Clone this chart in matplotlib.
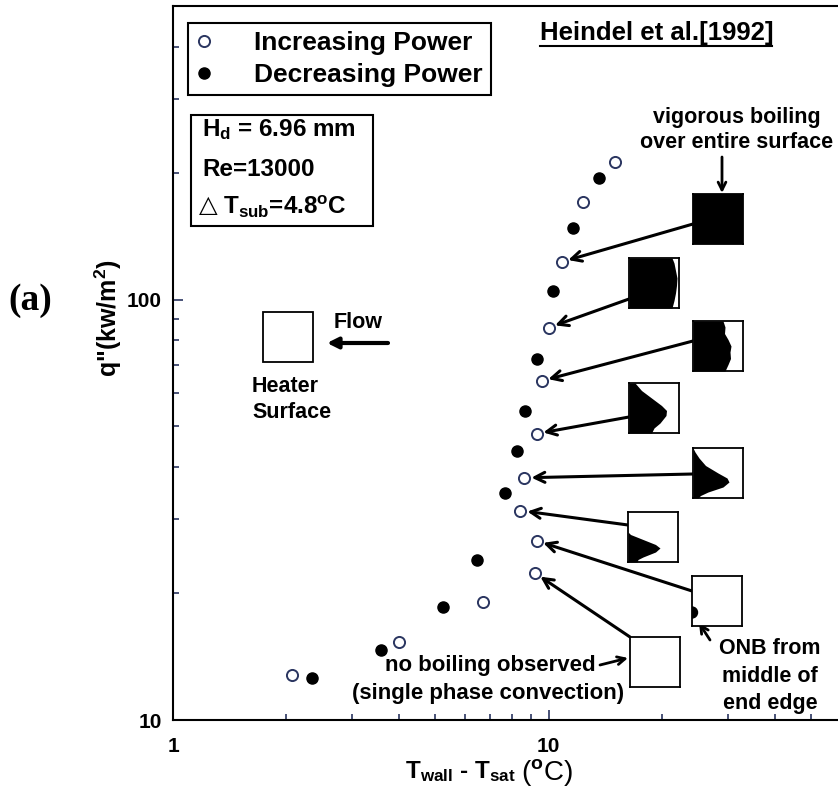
import matplotlib.pyplot as plt
import matplotlib.ticker as mticker
from matplotlib.patches import Rectangle, Wedge
from matplotlib.lines import Line2D

plt.rcParams['font.family'] = ['Liberation Sans', 'DejaVu Sans']
plt.rcParams['font.weight'] = 'bold'
plt.rcParams['mathtext.fontset'] = 'custom'
plt.rcParams['mathtext.rm'] = 'Liberation Sans'
plt.rcParams['mathtext.bf'] = 'Liberation Sans:bold'
plt.rcParams['mathtext.it'] = 'Liberation Sans:italic'

W, H = 838, 791

# wall superheat (C) and heat flux (kW/m2)
dt_inc = [2.08, 4.01, 6.71, 9.18, 9.29, 8.42, 8.63, 9.29, 9.58, 10.0, 10.83, 12.32, 15.0]
q_inc = [12.8, 15.3, 19.1, 22.4, 26.7, 31.5, 37.7, 48.0, 64.1, 85.8, 123, 171, 213]
dt_dec = [2.35, 3.59, 5.22, 6.43, 7.68, 8.22, 8.68, 9.29, 10.25, 11.59, 13.59]
q_dec = [12.6, 14.7, 18.6, 24.0, 34.7, 43.7, 54.4, 72.4, 105, 148, 195]

navy = '#2a3560'


def fp(px, py):
    # pixel position (from top-left) -> figure fraction
    return px / W, 1 - py / H


fig = plt.figure(figsize=(W / 100, H / 100), dpi=100)
ax = fig.add_axes([173 / W, (H - 720) / H, (W - 173) / W, 714 / H])

ax.plot(dt_inc, q_inc, 'o', ls='none', ms=8, mfc='white', mec=navy, mew=1.4,
        label='Increasing Power', zorder=3)
ax.plot(dt_dec, q_dec, 'o', ls='none', ms=8, color='black',
        label='Decreasing Power', zorder=3)

ax.set_xscale('log')
ax.set_yscale('log')
ax.set_xlim(1, 59)
ax.set_ylim(10, 500)

fmt = mticker.FuncFormatter(lambda v, _: f'{v:g}')
ax.xaxis.set_major_formatter(fmt)
ax.yaxis.set_major_formatter(fmt)
ax.xaxis.set_minor_formatter(mticker.NullFormatter())
ax.yaxis.set_minor_formatter(mticker.NullFormatter())
ax.tick_params(which='both', direction='in', color=navy, width=1.2,
               labelsize=15, top=False, right=False)
ax.tick_params(which='major', length=7)
ax.tick_params(which='minor', length=4)
ax.tick_params(axis='x', pad=12)
ax.tick_params(axis='y', pad=8)
for s in ['left', 'bottom', 'top']:
    ax.spines[s].set_linewidth(1.5)
ax.spines['right'].set_visible(False)

leg = ax.legend(loc='upper left', bbox_to_anchor=fp(188, 23),
                bbox_transform=fig.transFigure, borderaxespad=0, fancybox=False,
                edgecolor='black', framealpha=1, numpoints=1,
                prop={'weight': 'bold', 'size': 19}, handlelength=0.6,
                handletextpad=1.6, labelspacing=0.32, borderpad=0.3)
leg.get_frame().set_linewidth(1.5)

# axis titles
fig.text(*fp(108, 318), 'q"(kw/m$^\\mathbf{2}$)', rotation=90, ha='center',
         va='center', fontsize=18)
fig.text(*fp(516, 772), r'T$_{\mathbf{wall}}$ - T$_{\mathbf{sat}}$', ha='right',
         va='center', fontsize=17.5)
fig.text(*fp(521, 772), '($^{\\mathrm{o}}$C)', ha='left', va='center',
         fontsize=20, fontweight='normal')
fig.text(*fp(30, 300), '(a)', family='Liberation Serif', fontsize=27,
         ha='center', va='center')

# source tag, underlined
fig.text(*fp(540, 33), 'Heindel et al.[1992]', fontsize=18.5, ha='left', va='center')
fig.add_artist(Line2D([540 / W, 772 / W], [1 - 46 / H, 1 - 46 / H], color='black', lw=1.5))

# test conditions box
fig.add_artist(Rectangle(fp(191, 226), 182 / W, 111 / H, fill=False,
                         lw=1.5, ec='black', transform=fig.transFigure))
fig.text(*fp(202, 130), r'$\mathbf{H_d}$ = 6.96 mm', fontsize=17.5, va='center')
fig.text(*fp(202, 170), 'Re=13000', fontsize=17.5, va='center')
fig.text(*fp(199, 205), '\u25b3', family='DejaVu Sans', fontsize=17.5,
         fontweight='normal', va='center')
fig.text(*fp(223, 207), r'T$_{\mathbf{sub}}$=4.8$^{\mathbf{o}}$C', fontsize=17.5, va='center')

# heater sketch with flow direction
fig.add_artist(Rectangle(fp(263, 362), 50 / W, 50 / H, fill=False, lw=1.3,
                         ec='black', transform=fig.transFigure))
fig.text(*fp(358, 323), 'Flow', fontsize=15.5, ha='center', va='center')
ax.annotate('', xy=fp(327, 343), xycoords='figure fraction', xytext=fp(388, 343),
            textcoords='figure fraction',
            arrowprops=dict(arrowstyle='-|>', lw=3, color='black', mutation_scale=16,
                            shrinkA=0, shrinkB=0))
fig.text(*fp(252, 387), 'Heater', fontsize=15.5, va='center')
fig.text(*fp(252, 413), 'Surface', fontsize=15.5, va='center')

# surface snapshots: black = boiling region, edge profile from the left side
snapshots = [
    # (left, top, point index, arrow start, (ys, xs))
    (693, 194, 10, (693, 224), ([0, 1], [1, 1])),
    (629, 258, 9, (629, 299), ([0, 0.1, 0.25, 0.4, 0.55, 0.7, 0.85, 1],
                               [0.86, 0.9, 0.93, 0.96, 0.95, 0.93, 0.9, 0.86])),
    (693, 321, 8, (693, 341), ([0, 0.12, 0.25, 0.37, 0.5, 0.62, 0.75, 0.87, 1],
                               [0.6, 0.64, 0.63, 0.7, 0.76, 0.74, 0.75, 0.7, 0.64])),
    (629, 383, 7, (629, 417), ([0, 0.15, 0.3, 0.45, 0.55, 0.65, 0.8, 0.9, 1],
                               [0.12, 0.25, 0.45, 0.65, 0.75, 0.74, 0.62, 0.5, 0.45])),
    (693, 448, 6, (693, 474), ([0, 0.08, 0.2, 0.35, 0.5, 0.6, 0.68, 0.78, 0.88, 0.95, 1],
                               [0, 0.04, 0.12, 0.25, 0.5, 0.68, 0.72, 0.6, 0.3, 0.15, 0.1])),
    (628, 512, 5, (628, 525), ([0, 0.4, 0.45, 0.55, 0.65, 0.72, 0.8, 0.9, 0.95, 1],
                               [0, 0, 0.05, 0.3, 0.55, 0.64, 0.55, 0.3, 0.2, 0.18])),
    (692, 576, 4, (692, 591), None),
    (630, 637, 3, (630, 637), ([0, 1], [0, 0])),
]
size = 50
for left, top, idx, start, prof in snapshots:
    sub = fig.add_axes([left / W, 1 - (top + size) / H, size / W, size / H])
    sub.set_xlim(0, 1)
    sub.set_ylim(1, 0)
    sub.set_xticks([])
    sub.set_yticks([])
    for s in sub.spines.values():
        s.set_linewidth(1.3)
    if prof is None:
        sub.add_patch(Wedge((0, 0.73), 0.11, -90, 90, color='black'))
    else:
        ys, xs = prof
        sub.fill_betweenx(ys, 0, xs, color='black', lw=0)
    ax.annotate('', xy=(dt_inc[idx], q_inc[idx]), xycoords='data',
                xytext=fp(*start), textcoords='figure fraction',
                arrowprops=dict(arrowstyle='->', lw=2.2, color='black',
                                mutation_scale=18, shrinkA=0, shrinkB=5))

fig.text(*fp(737, 118), 'vigorous boiling', fontsize=15.5, ha='center', va='center')
fig.text(*fp(737, 143), 'over entire surface', fontsize=15.5, ha='center', va='center')
ax.annotate('', xy=fp(722, 193), xycoords='figure fraction', xytext=fp(722, 157),
            textcoords='figure fraction',
            arrowprops=dict(arrowstyle='->', lw=2, color='black', mutation_scale=14,
                            shrinkA=0, shrinkB=0))

for txt, y in [('ONB from', 649), ('middle of', 677), ('end edge', 703)]:
    fig.text(*fp(770, y), txt, fontsize=15.5, ha='center', va='center')
ax.annotate('', xy=fp(699, 623), xycoords='figure fraction', xytext=fp(710, 640),
            textcoords='figure fraction',
            arrowprops=dict(arrowstyle='->', lw=2, color='black', mutation_scale=14,
                            shrinkA=0, shrinkB=0))

fig.text(*fp(490, 665), 'no boiling observed', fontsize=16, ha='center', va='center')
fig.text(*fp(488, 693), '(single phase convection)', fontsize=16, ha='center', va='center')
ax.annotate('', xy=fp(628, 658), xycoords='figure fraction', xytext=fp(600, 665),
            textcoords='figure fraction',
            arrowprops=dict(arrowstyle='->', lw=2, color='black', mutation_scale=14,
                            shrinkA=0, shrinkB=0))

fig.savefig('out.png', dpi=100)
